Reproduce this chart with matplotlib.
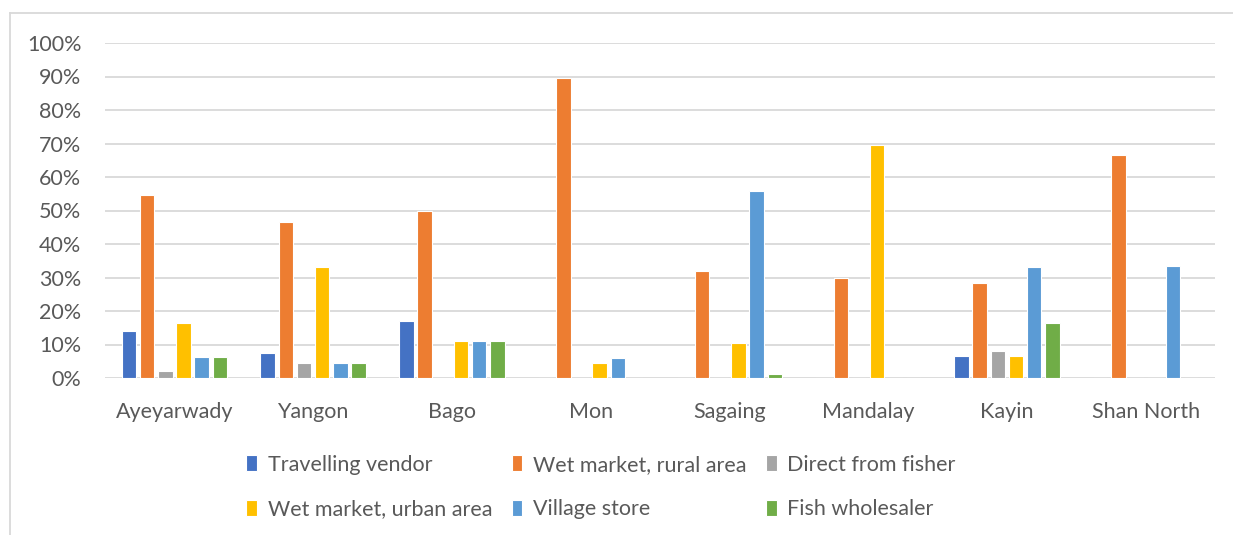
import numpy as np
import matplotlib.pyplot as plt
from matplotlib.lines import Line2D
from matplotlib.ticker import PercentFormatter

plt.rcParams["font.family"] = ["Lato", "DejaVu Sans"]

regions = ["Ayeyarwady", "Yangon", "Bago", "Mon", "Sagaing", "Mandalay", "Kayin", "Shan North"]

travelling_vendor = [14.0, 7.4, 17.1, 0, 0, 0, 6.7, 0]
wet_market_rural = [54.5, 46.5, 50.0, 89.5, 32.0, 30.0, 28.5, 66.7]
direct_from_fisher = [2.0, 4.4, 0, 0, 0, 0, 8.2, 0]
wet_market_urban = [16.4, 33.0, 10.9, 4.4, 10.5, 69.7, 6.7, 0]
village_store = [6.2, 4.4, 10.9, 5.9, 55.7, 0, 33.2, 33.3]
fish_wholesaler = [6.2, 4.4, 10.9, 0, 1.2, 0, 16.3, 0]

series = [
    ("Travelling vendor", travelling_vendor, "#4472C4"),
    ("Wet market, rural area", wet_market_rural, "#ED7D31"),
    ("Direct from fisher", direct_from_fisher, "#A5A5A5"),
    ("Wet market, urban area", wet_market_urban, "#FFC000"),
    ("Village store", village_store, "#5B9BD5"),
    ("Fish wholesaler", fish_wholesaler, "#70AD47"),
]

text_col = "#595959"
grid_col = "#D9D9D9"
fs = 15.5

fig = plt.figure(figsize=(12.33, 5.35), dpi=100)
ax = fig.add_axes([105 / 1233, 1 - 378 / 535, 1110 / 1233, 335 / 535])

x = np.arange(len(regions))
slot = 0.131
bar_w = slot * 0.8
handles = []
for i, (name, vals, col) in enumerate(series):
    offs = (i - 2.5) * slot
    b = ax.bar(x + offs, vals, width=bar_w, color=col, edgecolor="white",
               linewidth=0.8, label=name, zorder=3)
    handles.append(b)

ax.set_xlim(-0.5, len(regions) - 0.5)
ax.set_ylim(0, 100)
ax.set_yticks(np.arange(0, 101, 10))
ax.yaxis.set_major_formatter(PercentFormatter(decimals=0))
ax.grid(axis="y", color=grid_col, linewidth=1.3, zorder=0)
ax.set_xticks(x)
ax.set_xticklabels(regions)
ax.tick_params(axis="both", length=0, labelsize=fs, colors=text_col)
ax.tick_params(axis="x", pad=17)
ax.tick_params(axis="y", pad=17)
for s in ax.spines.values():
    s.set_visible(False)

# legend is filled column-wise, so reorder to get two rows of three
order = [0, 3, 1, 4, 2, 5]
leg = fig.legend([handles[k] for k in order], [series[k][0] for k in order],
                 ncol=3, loc="center", bbox_to_anchor=(601 / 1233, 1 - 487 / 535),
                 frameon=False, fontsize=fs, handlelength=0.5, handleheight=0.8,
                 handletextpad=0.5, columnspacing=0.9, labelspacing=1.15)
for t in leg.get_texts():
    t.set_color(text_col)

# chart area border: top and left edges only
fig.add_artist(Line2D([10 / 1233, 1], [1 - 13 / 535, 1 - 13 / 535],
                      transform=fig.transFigure, color=grid_col, linewidth=1.3))
fig.add_artist(Line2D([10 / 1233, 10 / 1233], [0, 1 - 13 / 535],
                      transform=fig.transFigure, color=grid_col, linewidth=1.3))

fig.savefig("out.png", dpi=100)
